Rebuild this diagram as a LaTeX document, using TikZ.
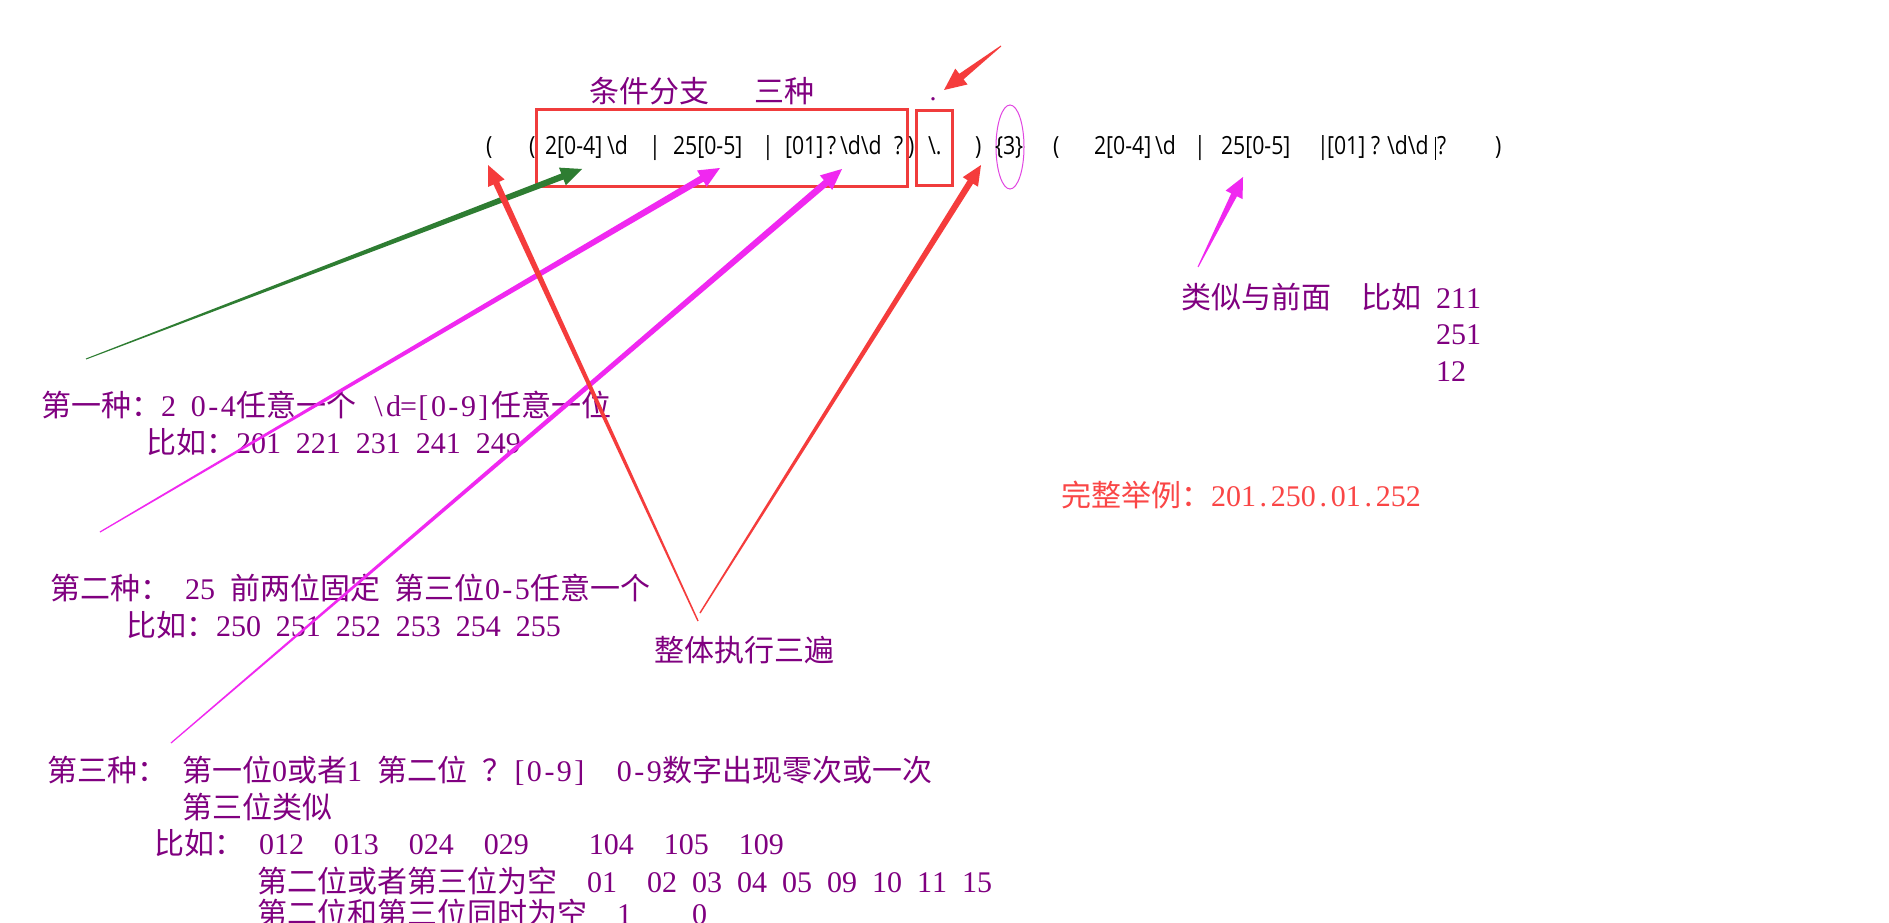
\documentclass[tikz,border=0pt]{standalone}
\usepackage{fontspec}
\setmainfont{Noto Sans CJK SC}
\newfontfamily\latf{Liberation Serif}
\newfontfamily\rxf{Open Sans}[FakeStretch=0.85]
\usetikzlibrary{calc}
\definecolor{purp}{RGB}{128,0,128}
\definecolor{redtxt}{RGB}{250,70,70}
\definecolor{boxred}{RGB}{240,60,60}
\definecolor{arrred}{RGB}{245,60,60}
\definecolor{mag}{RGB}{240,40,240}
\definecolor{ellmag}{RGB}{225,70,225}
\definecolor{grn}{RGB}{46,125,50}
\def\hwloop#1{\ifx#1\relax\else\makebox[.5em][c]{#1}\expandafter\hwloop\fi}
\newcommand\hwstr[1]{{\latf\hwloop#1\relax}}
\newcommand\taperarrow[7]{%
  \coordinate (tmpC) at ($(#3)!#7!(#2)$);
  \fill[#1] ($(#2)!#4!90:(#3)$) -- ($(tmpC)!#5!270:(#2)$) -- ($(tmpC)!#6!270:(#2)$) -- (#3)
    -- ($(tmpC)!#6!90:(#2)$) -- ($(tmpC)!#5!90:(#2)$) -- ($(#2)!#4!270:(#3)$) -- cycle;}
\tikzset{
  ann/.style={anchor=west, inner sep=0pt, outer sep=0pt, text=purp,
    font=\fontsize{30}{36}\selectfont, text height=26.4pt, text depth=3.6pt},
  rx/.style={anchor=base west, inner sep=0pt, outer sep=0pt, text=black,
    font=\rxf\fontsize{25}{30}\selectfont},
  redbox/.style={draw=boxred, line width=3pt},
}
\begin{document}
\begin{tikzpicture}[x=1pt,y=-1pt]
\useasboundingbox[fill=white] (0,0) rectangle (1889,923);

% title and dot
\node[ann] (title) at (589,91) {条件分支\hwstr{~~~}三种};
\node[anchor=base, inner sep=0pt, text=purp, font=\latf\fontsize{28}{30}\selectfont] (dot) at (933,101) {.};

% boxes and ellipse
\draw[redbox] (536,110) rectangle (907,186);
\draw[redbox] (916,111) rectangle (952,185);
\draw[ellmag, line width=1pt] (1010,147) ellipse [x radius=14pt, y radius=42pt];

% regex line, first part
\node[rx] (p1) at (486,154) {(};
\node[rx] (p2) at (529,154) {(};
\node[rx] (a1) at (545,154) {2[0-4]};
\node[rx] (a2) at (607,154) {\textbackslash d};
\node[rx] (b1) at (649,154) {|};
\node[rx] (a3) at (673,154) {25[0-5]};
\node[rx] (b2) at (762,154) {|};
\node[rx] (a4) at (785,154) {[01]};
\node[rx] (a5) at (827,154) {?};
\node[rx] (a6) at (840,154) {\textbackslash d\textbackslash d};
\node[rx] (a7) at (894,154) {?};
\node[rx] (q1) at (908,154) {)};
\node[rx] (dotesc) at (928,154) {\textbackslash .};
\node[rx] (q2) at (975,154) {)};
\node[rx] (rep) at (995,154) {\{3\}};
% regex line, second part
\node[rx] (p3) at (1053,154) {(};
\node[rx] (c1) at (1094,154) {2[0-4]};
\node[rx] (c2) at (1155,154) {\textbackslash d};
\node[rx] (b3) at (1194,154) {|};
\node[rx] (c3) at (1221,154) {25[0-5]};
\node[rx] (b4) at (1317,154) {|};
\node[rx] (c4) at (1327,154) {[01]};
\node[rx] (c5) at (1371,154) {?};
\node[rx] (c6) at (1387,154) {\textbackslash d\textbackslash d};
\node[rx] (c7) at (1437,154) {?};
\node[rx] (q3) at (1495,154) {)};
\coordinate (cur1) at (1435,137);
\coordinate (cur2) at (1435,160);
\draw[line width=0.8pt] (cur1) -- (cur2);

% annotations
\node[ann] (t1) at (41,405) {第一种：\hwstr{2~0-4}任意一个\hwstr{~\textbackslash d=[0-9]}任意一位};
\node[ann] (t1b) at (146,442) {比如：\hwstr{201~221~231~241~249}};
\node[ann] (t2) at (50,588) {第二种：\hwstr{~25~}前两位固定\hwstr{~}第三位\hwstr{0-5}任意一个};
\node[ann] (t2b) at (126,625) {比如：\hwstr{250~251~252~253~254~255}};
\node[ann] (all3) at (654,650) {整体执行三遍};
\node[ann] (t3) at (47,770) {第三种：\hwstr{~}第一位\hwstr{0}或者\hwstr{1~}第二位\hwstr{~}？\hwstr{[0-9]~~0-9}数字出现零次或一次};
\node[ann] (t3a) at (182,807) {第三位类似};
\node[ann] (t3b) at (154,843) {比如：\hwstr{~012~~013~~024~~029~~~~104~~105~~109}};
\node[ann] (t3c) at (257,881) {第二位或者第三位为空\hwstr{~~01~~02~03~04~05~09~10~11~15}};
\node[ann] (t3d) at (257,913) {第二位和第三位同时为空\hwstr{~~1~~~~0}};
\node[ann] (sim) at (1181,297) {类似与前面\hwstr{~~}比如\hwstr{~211}};
\node[ann] (s2) at (1436,333) {\hwstr{251}};
\node[ann] (s3) at (1436,370) {\hwstr{12}};
\node[ann, text=redtxt] (ex) at (1061,495) {完整举例：\hwstr{201.250.01.252}};

% arrows
\coordinate (gT) at (86,359);   \coordinate (gH) at (582,169);
\coordinate (m1T) at (100,532); \coordinate (m1H) at (720,168);
\coordinate (m2T) at (171,743); \coordinate (m2H) at (842,169);
\coordinate (rLT) at (698,621); \coordinate (rLH) at (488,165);
\coordinate (rRT) at (700,613); \coordinate (rRH) at (981,165);
\coordinate (rTT) at (1001,46); \coordinate (rTH) at (944,90);
\coordinate (m3T) at (1198,267); \coordinate (m3H) at (1243,177);
\taperarrow{grn}{gT}{gH}{0.5pt}{3.2pt}{9.5pt}{21pt}
\taperarrow{mag}{m1T}{m1H}{0.6pt}{3.4pt}{9.5pt}{21pt}
\taperarrow{mag}{m2T}{m2H}{0.6pt}{3.4pt}{9.5pt}{21pt}
\taperarrow{arrred}{rLT}{rLH}{0.7pt}{3.2pt}{9pt}{20pt}
\taperarrow{arrred}{rRT}{rRH}{0.7pt}{3.2pt}{9pt}{20pt}
\taperarrow{arrred}{rTT}{rTH}{0.5pt}{3.5pt}{10pt}{22pt}
\taperarrow{mag}{m3T}{m3H}{0.5pt}{3.2pt}{9.5pt}{20pt}
\end{tikzpicture}
\end{document}
